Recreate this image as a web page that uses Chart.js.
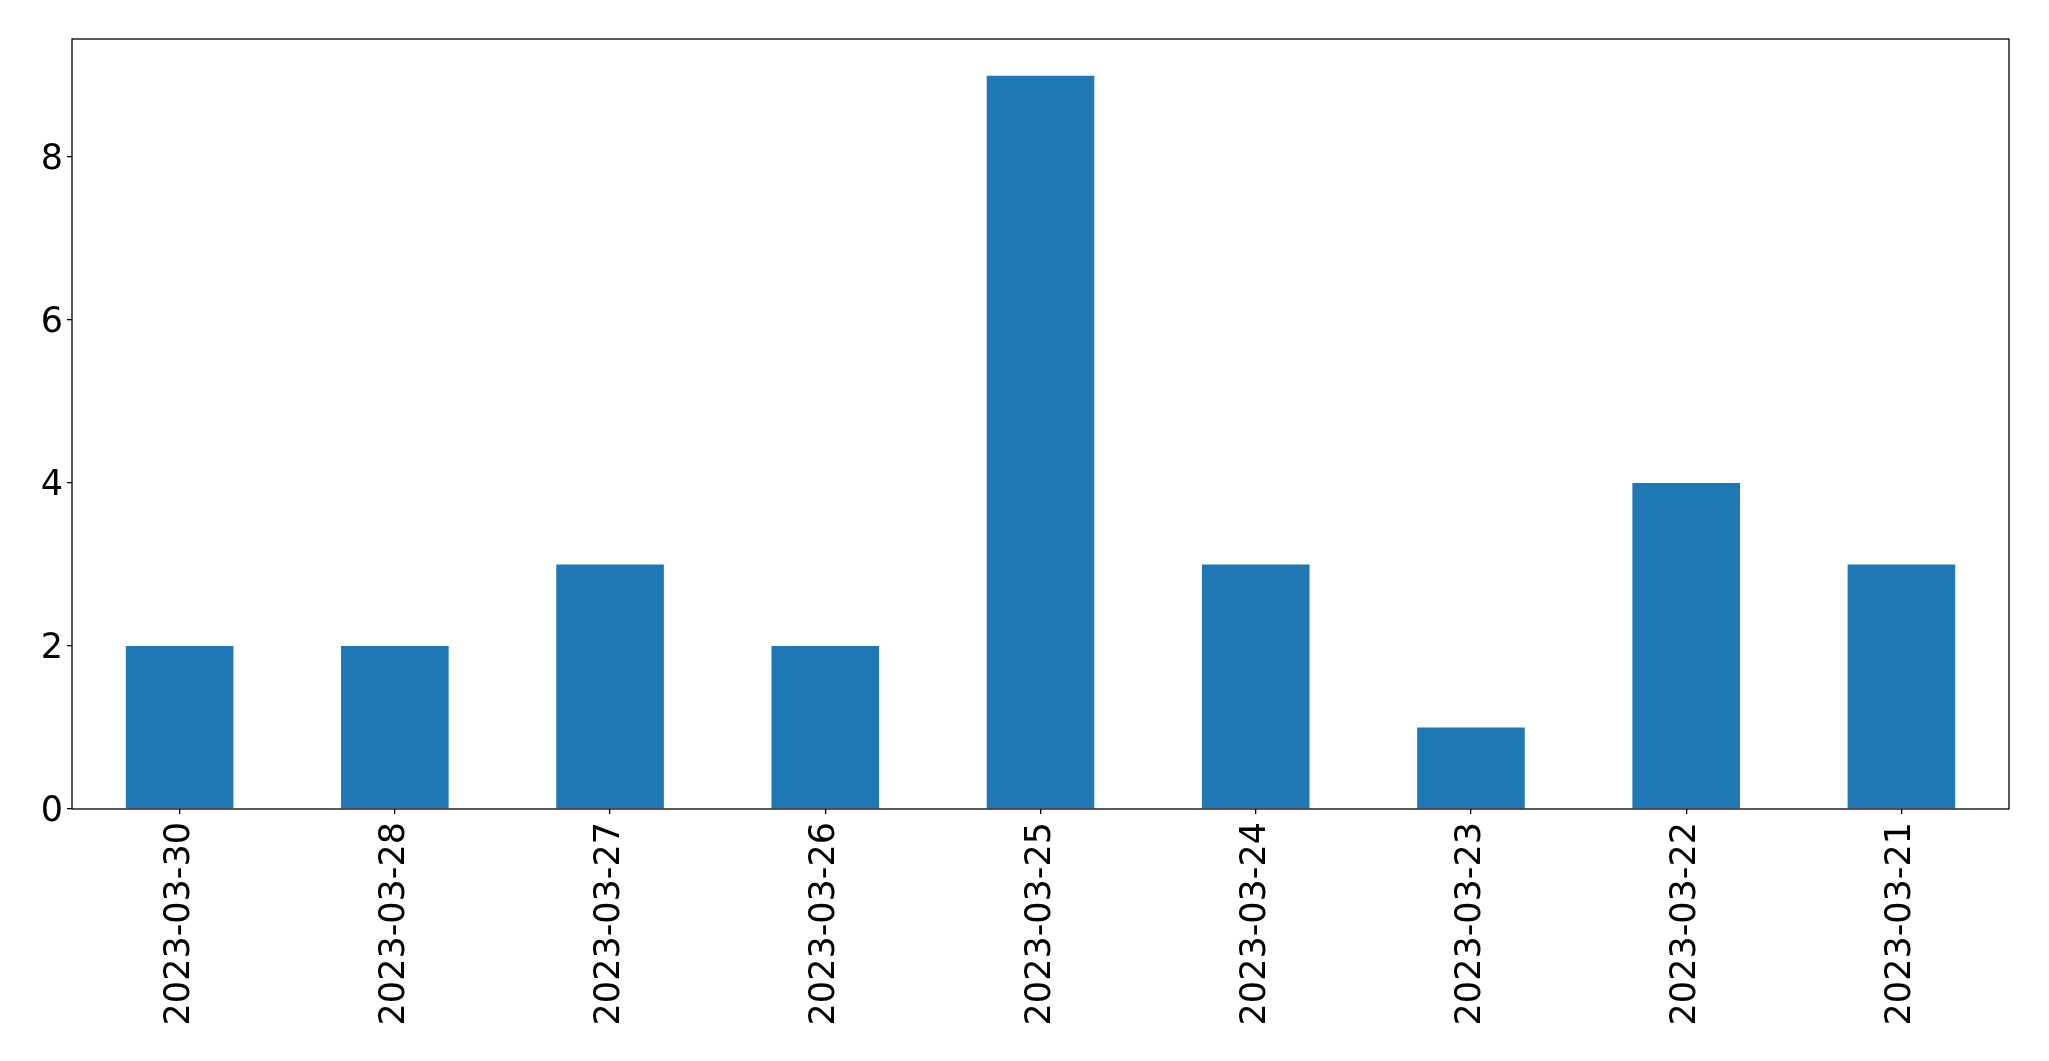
<!DOCTYPE html>
<html>
<head>
<meta charset="utf-8">
<script src="https://cdn.jsdelivr.net/npm/chart.js@4/dist/chart.umd.min.js"></script>
<style>
  html, body { margin: 0; padding: 0; background: #fff; }
  #wrap { width: 2049px; height: 1061px; }
</style>
</head>
<body>
<div id="wrap"><canvas id="bar-chart" width="2049" height="1061"></canvas></div>
<script>
// данные с картинки
const dates  = ['2023-03-30', '2023-03-28', '2023-03-27', '2023-03-26', '2023-03-25',
                '2023-03-24', '2023-03-23', '2023-03-22', '2023-03-21'];
const counts = [2, 2, 3, 2, 9, 3, 1, 4, 3];
const yTicks = [0, 2, 4, 6, 8];
const yMax   = 9.45;

const FONT = { family: 'DejaVu Sans', size: 35 };

// рамка вокруг области графика, как у matplotlib
const frame = {
  id: 'frame',
  afterDraw(chart) {
    const { ctx, chartArea: a } = chart;
    ctx.save();
    ctx.strokeStyle = '#000';
    ctx.lineWidth = 1.3;
    ctx.strokeRect(a.left, a.top, a.right - a.left, a.bottom - a.top);
    ctx.restore();
  },
};

new Chart(document.getElementById('bar-chart'), {
  type: 'bar',
  data: {
    labels: dates,
    datasets: [{
      data: counts,
      backgroundColor: '#1f77b4',
      borderWidth: 0,
      barPercentage: 0.5,
      categoryPercentage: 1,
    }],
  },
  options: {
    responsive: false,
    animation: false,
    layout: { padding: { top: 39, right: 40, left: 0, bottom: 0 } },
    plugins: { legend: { display: false }, tooltip: { enabled: false } },
    scales: {
      x: {
        offset: true,
        grid: { display: true, offset: false, drawOnChartArea: false, drawTicks: true, tickLength: 5, color: '#000', lineWidth: 1.3 },
        border: { display: false },
        ticks: { color: '#000', font: FONT, minRotation: 90, maxRotation: 90, padding: 8, autoSkip: false },
        afterFit: s => { s.height = 1061 - 809; },
      },
      y: {
        min: 0,
        max: yMax,
        afterBuildTicks: s => { s.ticks = yTicks.map(v => ({ value: v })); },
        grid: { display: true, drawOnChartArea: false, drawTicks: true, tickLength: 5, color: '#000', lineWidth: 1.3 },
        border: { display: false },
        ticks: { color: '#000', font: FONT, padding: 4, labelOffset: 3 },
        afterFit: s => { s.width = 72; },
      },
    },
  },
  plugins: [frame],
});
</script>
</body>
</html>
